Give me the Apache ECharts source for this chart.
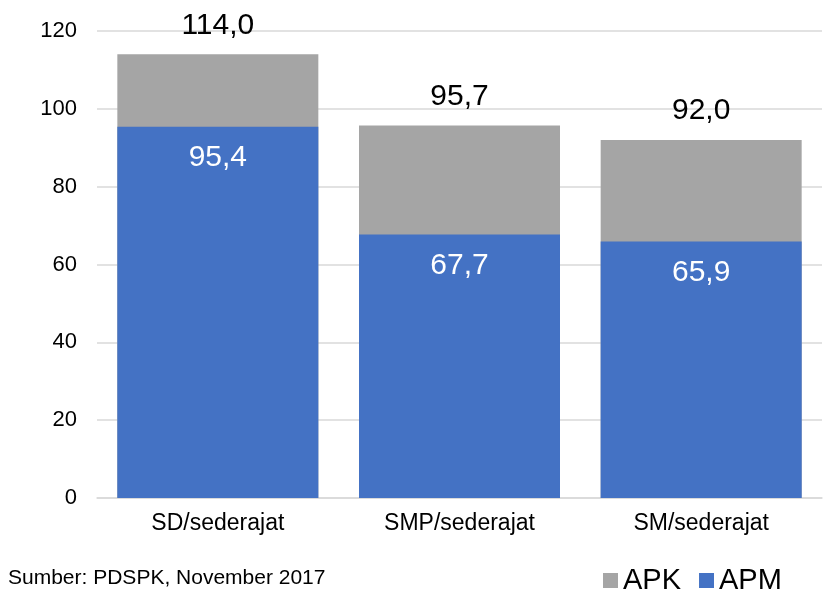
<!DOCTYPE html>
<html><head><meta charset="utf-8">
<script src="https://cdn.jsdelivr.net/npm/echarts@6/dist/echarts.min.js"></script>
<style>html,body{margin:0;padding:0;background:#fff}#c{width:836px;height:599px}</style>
</head><body><div id="c"></div>
<script>
var categories = ['SD/sederajat', 'SMP/sederajat', 'SM/sederajat'];
var apk = [114.0, 95.7, 92.0];
var apm = [95.4, 67.7, 65.9];
var yTicks = {min: 0, max: 120, interval: 20};
var sourceText = 'Sumber: PDSPK, November 2017';

function fmt(p){ return p.value.toFixed(1).replace('.', ','); }
var FONT = '"Liberation Sans", Arial, sans-serif';
var chart = echarts.init(document.getElementById('c'));
chart.setOption({
  animation: false,
  textStyle: {fontFamily: FONT},
  grid: {left: 97, right: 14, top: 31, bottom: 101},
  legend: {
    data: ['APK', 'APM'], left: 598, top: 561, itemWidth: 15, itemHeight: 15, itemGap: 18,
    icon: 'rect', textStyle: {fontSize: 29, color: '#000', fontFamily: FONT}
  },
  graphic: [{type: 'text', left: 8, top: 568, style: {text: sourceText, fontSize: 21, fill: '#000', fontFamily: FONT}}],
  xAxis: {
    type: 'category', data: categories,
    axisLine: {lineStyle: {color: '#d9d9d9', width: 1.5}},
    axisTick: {show: false},
    axisLabel: {fontSize: 23, color: '#000', margin: 14, fontFamily: FONT}
  },
  yAxis: {
    type: 'value', min: yTicks.min, max: yTicks.max, interval: yTicks.interval,
    axisLine: {show: false}, axisTick: {show: false},
    axisLabel: {fontSize: 22, color: '#000', margin: 20, fontFamily: FONT},
    splitLine: {lineStyle: {color: '#d9d9d9', width: 1.5}}
  },
  series: [
    {name: 'APK', type: 'bar', data: apk, barWidth: 201, itemStyle: {color: '#A5A5A5'},
     label: {show: true, position: 'top', distance: 14, fontSize: 30, color: '#000', formatter: fmt, fontFamily: FONT}},
    {name: 'APM', type: 'bar', data: apm, barWidth: 201, barGap: '-100%', itemStyle: {color: '#4472C4'},
     label: {show: true, position: 'insideTop', distance: 16, fontSize: 30, color: '#fff', formatter: fmt, fontFamily: FONT}}
  ]
});
</script></body></html>
